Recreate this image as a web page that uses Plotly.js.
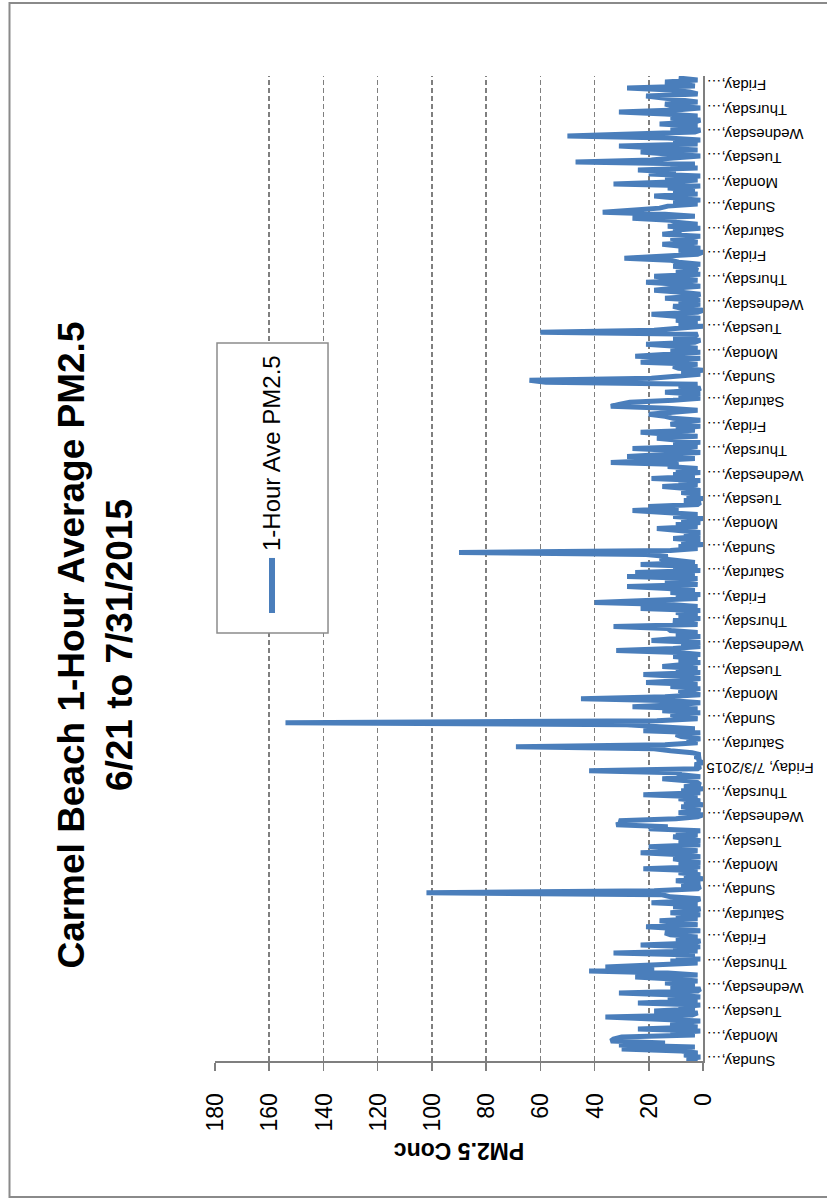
<!DOCTYPE html>
<html>
<head>
<meta charset="utf-8">
<script src="https://cdn.plot.ly/plotly-3.0.1.min.js"></script>
<style>
html,body{margin:0;padding:0;background:#fff;overflow:hidden;width:827px;height:1203px;}
#chart{position:absolute;left:0;top:0;width:1203px;height:827px;transform-origin:0 0;transform:translate(0px,1203px) rotate(-90deg);}
</style>
</head>
<body>
<div id="chart"></div>
<script>
// Tick labels, one per day, 6/21/2015 (Sunday) to 7/31/2015 (Friday)
const dayLabels = [
  "Sunday,…","Monday,…","Tuesday,…","Wednesday,…","Thursday,…","Friday,…","Saturday,…",
  "Sunday,…","Monday,…","Tuesday,…","Wednesday,…","Thursday,…","Friday, 7/3/2015","Saturday,…",
  "Sunday,…","Monday,…","Tuesday,…","Wednesday,…","Thursday,…","Friday,…","Saturday,…",
  "Sunday,…","Monday,…","Tuesday,…","Wednesday,…","Thursday,…","Friday,…","Saturday,…",
  "Sunday,…","Monday,…","Tuesday,…","Wednesday,…","Thursday,…","Friday,…","Saturday,…",
  "Sunday,…","Monday,…","Tuesday,…","Wednesday,…","Thursday,…","Friday,…"
];
const yTicks = [0,20,40,60,80,100,120,140,160,180];
const sampleHours = 2;   // values read every 2 hours
// 1-Hour Ave PM2.5, 12 readings per day
const pm25 = [
  2,6,1,7,2,8,30,3,31,14,34,33,
  30,3,12,1,24,2,9,12,1,15,36,4,
  2,18,3,9,1,24,2,13,1,10,31,2,
  1,12,3,14,2,11,25,2,13,42,18,36,
  22,2,12,1,10,3,33,2,11,1,23,3,
  1,10,2,12,14,1,9,21,2,11,16,2,
  10,1,12,3,1,11,2,19,3,1,12,15,
  102,18,2,1,8,1,10,0,7,1,9,2,
  22,1,9,1,7,11,1,8,23,2,10,20,
  1,9,1,8,11,2,10,1,20,13,32,30,
  31,10,2,0,9,1,3,8,0,7,1,9,
  2,22,1,8,0,7,1,2,6,15,1,8,
  10,42,2,1,3,0,2,1,3,1,4,12,
  18,69,14,2,6,1,8,10,1,22,3,16,
  28,154,17,2,8,12,1,15,2,26,10,1,
  11,45,14,1,6,9,1,12,2,21,7,1,
  8,22,1,10,2,15,7,1,9,2,11,1,
  9,32,11,1,8,1,19,7,1,10,2,12,
  13,33,2,8,11,1,9,2,10,1,23,2,
  12,40,16,2,10,1,12,3,13,28,2,10,
  14,2,28,3,25,1,11,2,23,3,12,16,
  13,21,90,12,2,9,0,8,1,11,1,7,
  1,9,17,2,10,1,8,0,11,2,13,26,
  9,20,2,1,7,0,6,1,8,1,6,15,
  2,9,1,19,3,11,1,10,2,13,9,34,
  17,3,28,12,1,10,26,2,11,1,9,17,
  2,13,23,3,10,1,12,8,1,11,14,20,
  10,2,13,34,31,27,11,1,9,1,14,2,
  1,9,2,58,64,19,10,1,8,0,9,11,
  2,23,10,1,25,9,1,12,2,10,21,3,
  1,11,3,2,60,18,7,0,9,2,10,1,
  10,19,2,0,8,11,1,9,1,14,3,1,
  8,18,11,1,9,21,2,12,18,1,10,2,
  3,11,1,9,12,29,10,2,0,9,1,11,
  15,2,9,12,1,15,8,11,1,13,2,10,
  12,26,3,14,37,28,16,13,2,11,1,10,
  18,2,11,3,13,1,33,12,2,14,1,20,
  10,24,2,12,3,47,19,11,1,13,23,2,
  14,31,2,11,1,13,50,18,3,1,12,2,
  16,3,1,12,2,14,31,10,1,11,14,2,
  10,13,21,2,5,12,28,3,11,14,2,9
];
const seriesName = "1-Hour Ave PM2.5";

const hours = pm25.map((_, i) => i * sampleHours);
// label spacing on the original category axis (slightly more than 24 points per label)
const tickPos = dayLabels.map((_, d) => d * 24.375);

const FONT = '"Liberation Sans", Arial, sans-serif';
const GRID = '#7f7f7f';
const LINE = '#4a7ebb';

const trace = {
  x: hours, y: pm25, type: 'scatter', mode: 'lines', name: seriesName,
  line: {color: LINE, width: 5}, hoverinfo: 'skip', showlegend: false
};

const layout = {
  width: 1203, height: 827,
  margin: {l: 142, r: 76, t: 215, b: 124, pad: 0},
  paper_bgcolor: '#fff', plot_bgcolor: '#fff',
  font: {family: FONT, color: '#000'},
  showlegend: false,
  title: {
    text: '<b>Carmel Beach 1-Hour Average PM2.5<br>6/21 to 7/31/2015</b>',
    font: {family: FONT, size: 37, color: '#000'},
    x: 0.4638, xref: 'container', xanchor: 'center',
    y: 0.899, yref: 'container', yanchor: 'top'
  },
  xaxis: {
    range: [0, 984], tickmode: 'array', tickvals: tickPos, ticktext: dayLabels,
    tickangle: -90, tickfont: {family: FONT, size: 15, color: '#000'},
    ticks: '', ticklabelstandoff: -4, showgrid: false, zeroline: false,
    showline: true, linecolor: GRID, linewidth: 1.5, fixedrange: true
  },
  yaxis: {
    range: [0, 180], tickmode: 'array', tickvals: yTicks,
    tickfont: {family: FONT, size: 23, color: '#000'},
    ticks: 'outside', ticklen: 8, tickwidth: 1.5, tickcolor: GRID,
    ticklabelstandoff: 18,
    showgrid: true, gridcolor: GRID, gridwidth: 1.5, griddash: '5px,3px',
    zeroline: false, showline: true, linecolor: GRID, linewidth: 1.5,
    title: {text: '<b>PM2.5 Conc</b>', font: {family: FONT, size: 23, color: '#000'}, standoff: 4},
    fixedrange: true
  },
  shapes: [
    {type: 'rect', xref: 'paper', yref: 'paper', x0: -0.1381, x1: 1.0741, y0: -0.2705, y1: 1.4211,
     line: {color: '#8a8a8a', width: 2}, fillcolor: 'rgba(0,0,0,0)', layer: 'below'},
    {type: 'rect', xref: 'paper', yref: 'paper', x0: 0.4345, x1: 0.729, y0: 0.7684, y1: 0.9959,
     line: {color: '#8c8c8c', width: 1.5}, fillcolor: '#fff', layer: 'above'},
    {type: 'line', xref: 'paper', yref: 'paper', x0: 0.4548, x1: 0.5107, y0: 0.8832, y1: 0.8832,
     line: {color: LINE, width: 6}, layer: 'above'}
  ],
  annotations: [
    {text: seriesName, xref: 'paper', yref: 'paper', x: 0.5157, y: 0.8832,
     xanchor: 'left', yanchor: 'middle', showarrow: false,
     font: {family: FONT, size: 24, color: '#000'}}
  ]
};

Plotly.newPlot('chart', [trace], layout, {displayModeBar: false, staticPlot: true});
</script>
</body>
</html>
